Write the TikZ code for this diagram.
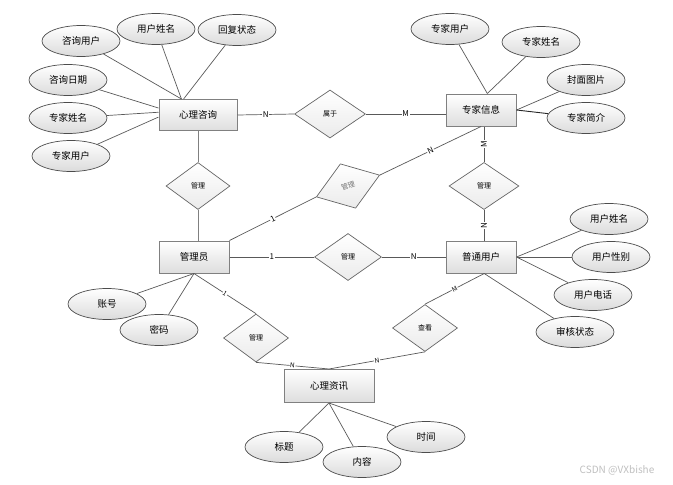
\documentclass[tikz,border=0pt]{standalone}
\usepackage{fontspec}
\setmainfont{Noto Sans CJK SC}
\usetikzlibrary{shapes.geometric}

\begin{document}
\begin{tikzpicture}[x=1pt,y=-1pt,
	shiti/.style={draw=black!50, line width=1pt, top color=white, bottom color=black!13, minimum width=70pt, minimum height=32pt, inner sep=0pt, font=\fontsize{9.5}{10}\selectfont},
	shuxing/.style={ellipse, draw=black!70, line width=0.7pt, top color=white, bottom color=black!14, minimum width=78pt, minimum height=31pt, inner sep=0pt, font=\fontsize{9.5}{10}\selectfont},
	lianxi/.style={diamond, draw=black!60, line width=0.7pt, top color=white, bottom color=black!8, minimum width=66pt, minimum height=47pt, inner sep=0pt, font=\fontsize{7}{7}\selectfont},
	xian/.style={draw=black!65, line width=0.7pt},
	lbl/.style={fill=white, inner sep=0.6pt, font=\fontsize{8}{8}\selectfont}]
		\useasboundingbox (0,0) rectangle (673,485);

		\node[shiti, minimum width=78pt, minimum height=31pt] (zx) at (198,115) {心理咨询};
		\node[shiti] (zj) at (481,110) {专家信息};
		\node[shiti] (gly) at (194,257) {管理员};
		\node[shiti] (yh) at (481,257) {普通用户};
		\node[shiti, minimum width=90pt, minimum height=33pt] (zxun) at (329,386) {心理资讯};

		\node[lianxi, minimum width=71pt, minimum height=48pt] (sy) at (330,114) {属于};
		\node[lianxi, minimum width=64pt] (glA) at (198,186) {管理};
		\node[lianxi, minimum width=70pt] (glB) at (484,186) {管理};
		\node[lianxi, minimum width=67pt] (glC) at (348,257) {管理};
		\node[lianxi, minimum width=65pt, minimum height=48pt] (glD) at (256,338) {管理};
		\node[lianxi, minimum width=65pt] (ck) at (425,328) {查看};
		\node[lianxi, minimum width=67pt, rotate=19, text=black!55] (glE) at (348,186) {管理};

		\node[shuxing] (zxyh) at (81,41) {咨询用户};
		\node[shuxing] (zxxm) at (156,29) {用户姓名};
		\node[shuxing] (hfzt) at (237,30) {回复状态};
		\node[shuxing] (zxrq) at (68,80) {咨询日期};
		\node[shuxing] (zxzjxm) at (68,118) {专家姓名};
		\node[shuxing] (zxzjyh) at (71,156) {专家用户};
		\draw[xian] (zxyh) -- (zx.136);
		\draw[xian] (zxxm) -- (zx.136);
		\draw[xian] (hfzt) -- (zx.132);
		\draw[xian] (zxrq) -- (zx.170);
		\draw[xian] (zxzjxm) -- (zx.176);
		\draw[xian] (zxzjyh) -- (zx.183);

		\node[shuxing] (zjyh) at (450,29) {专家用户};
		\node[shuxing] (zjxm) at (541,42) {专家姓名};
		\node[shuxing] (fmtp) at (586,80) {封面图片};
		\node[shuxing] (zjjj) at (586,118) {专家简介};
		\draw[xian] (zjyh) -- (zj.69);
		\draw[xian] (zjxm) -- (zj.69);
		\draw[xian] (fmtp) -- (zj.east);
		\draw[xian, draw=black!85, line width=0.9pt] (zjjj) -- (zj.east);

		\node[shuxing] (yhxm) at (609,219) {用户姓名};
		\node[shuxing] (yhxb) at (611,257) {用户性别};
		\node[shuxing] (yhdh) at (593,295) {用户电话};
		\node[shuxing] (shzt) at (575,332) {审核状态};
		\draw[xian] (yhxm) -- (yh.east);
		\draw[xian] (yhxb) -- (yh.east);
		\draw[xian] (yhdh) -- (yh.east);
		\draw[xian] (shzt) -- (yh.281);

		\node[shuxing] (zh) at (107,304) {账号};
		\node[shuxing] (mm) at (159,330) {密码};
		\draw[xian] (zh) -- (gly.south);
		\draw[xian] (mm) -- (gly.south);

		\node[shuxing] (bt) at (284,447) {标题};
		\node[shuxing] (nr) at (362,462) {内容};
		\node[shuxing] (sj) at (426,437) {时间};
		\draw[xian] (bt) -- (zxun.south);
		\draw[xian] (nr) -- (zxun.south);
		\draw[xian] (sj) -- (zxun.south);

		\draw[xian] (zx.east) -- node[lbl] {N} (sy.west);
		\draw[xian] (sy.east) -- node[lbl] {M} (sy.east -| zj.west);
		\draw[xian, line width=1pt, draw=black!50] (zx.south) -- (glA.north);
		\draw[xian, line width=1pt, draw=black!50] (glA.south) -- (glA.south |- gly.north);
		\draw[xian] (gly.east) -- node[lbl] {1} (glC.west);
		\draw[xian] (glC.east) -- node[lbl] {N} (yh.west);
		\draw[xian] (glB.north |- zj.south) -- node[lbl, rotate=90] {M} (glB.north);
		\draw[xian] (glB.south) -- node[lbl, rotate=90] {N} (glB.south |- yh.north);
		\draw[xian] (gly.north east) -- node[lbl, sloped] {1} (glE.west);
		\draw[xian] (glE.east) -- node[lbl, sloped] {N} (zj.south);
		\draw[xian] (gly.south) -- node[lbl, sloped, font=\fontsize{6.5}{6.5}\selectfont] {1} (glD.north);
		\draw[xian] (glD.south) -- node[lbl, sloped, font=\fontsize{6.5}{6.5}\selectfont] {N} (zxun.north);
		\draw[xian] (ck.north) -- node[lbl, sloped, font=\fontsize{6.5}{6.5}\selectfont] {M} (yh.281);
		\draw[xian] (ck.south) -- node[lbl, sloped, font=\fontsize{6.5}{6.5}\selectfont] {N} (zxun.north);

		\node[text=black!25, font=\fontsize{10}{10}\selectfont] (csdn) at (617,470) {CSDN @VXbishe};
\end{tikzpicture}
\end{document}
